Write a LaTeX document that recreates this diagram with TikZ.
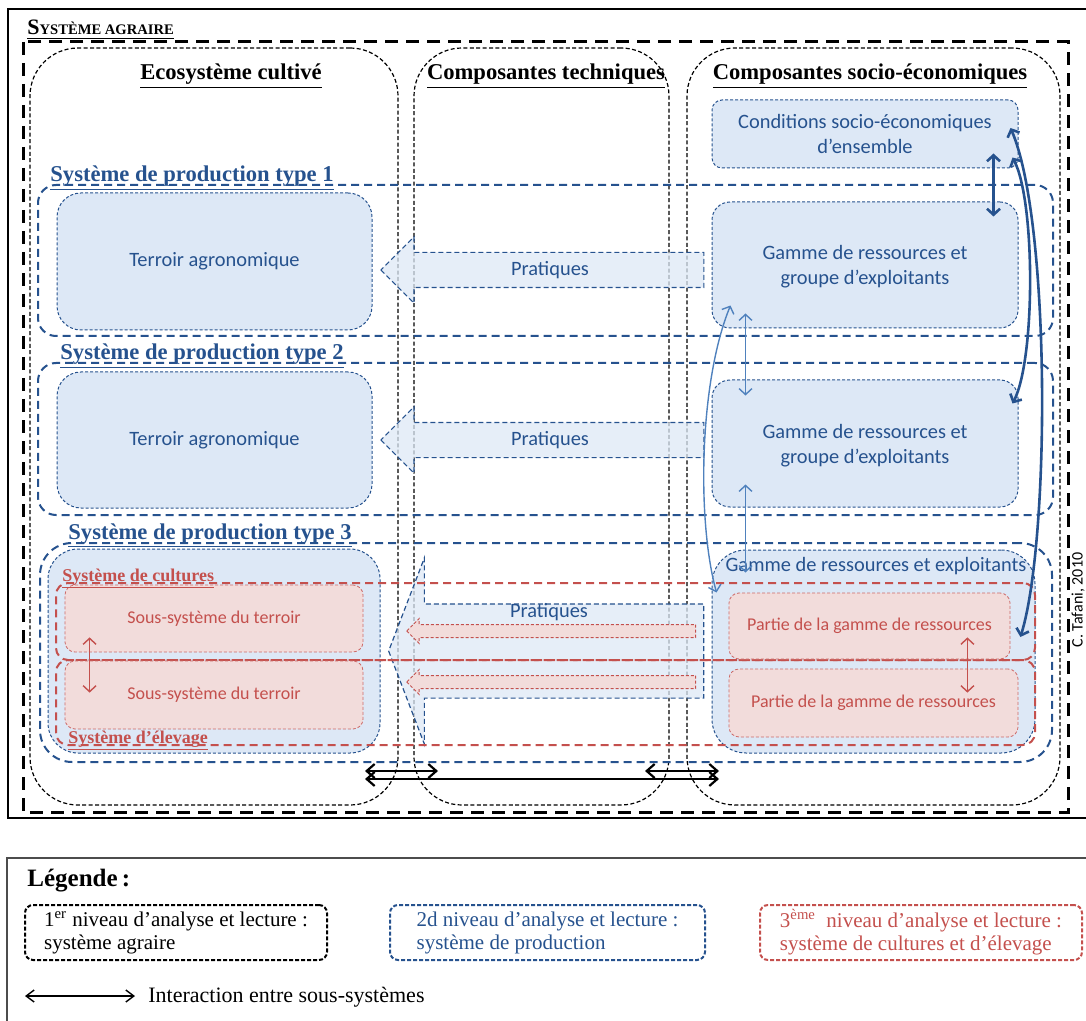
\documentclass[tikz,border=0pt]{standalone}
\usepackage{fontspec}
\setmainfont{Carlito}
\newfontfamily\serifbf{Liberation Serif}
\usepackage{tikz}
\usetikzlibrary{positioning}
\usetikzlibrary{calc,fit,shapes.arrows}
\usetikzlibrary{arrows.meta}
\definecolor{sysblue}{RGB}{38,82,142}
\definecolor{boxfill}{RGB}{221,232,246}
\definecolor{lightlnk}{RGB}{79,129,189}
\definecolor{sysred}{RGB}{196,80,77}
\definecolor{pinkfill}{RGB}{242,220,219}
\tikzstyle{barbs}=[{Straight Barb[length=3pt,width=6.5pt]}-{Straight Barb[length=3pt,width=6.5pt]}]
\tikzset{
  agraire/.style={line width=1.5pt, dash pattern=on 6.5pt off 4pt},
  lvlone/.style={draw=black, line width=0.6pt, dash pattern=on 2pt off 1.2pt, rounded corners=24pt, inner sep=0pt},
  lvltwo/.style={draw=sysblue, line width=1pt, dash pattern=on 4pt off 2.5pt, inner sep=0pt},
  lvlthree/.style={draw=sysred, line width=1pt, dash pattern=on 4pt off 2.5pt, rounded corners=6pt, inner sep=0pt},
  bluebox/.style={draw=sysblue, fill=boxfill, line width=0.5pt, dash pattern=on 1.5pt off 1pt, inner sep=0pt},
  pinkbox/.style={draw=sysred!85, fill=pinkfill, line width=0.4pt, dash pattern=on 1.5pt off 1pt, rounded corners=5pt, inner sep=0pt},
  pratarrow/.style={single arrow, shape border rotate=180, draw=sysblue, fill=boxfill, fill opacity=0.75, line width=0.6pt, dash pattern=on 2.5pt off 1.5pt, inner sep=0pt, anchor=tip},
  redarrow/.style={single arrow, shape border rotate=180, draw=sysred, fill=pinkfill, line width=0.5pt, dash pattern=on 1.5pt off 1pt, inner sep=0pt, anchor=tip, single arrow tip angle=90, text height=3pt, text depth=3pt, single arrow head extend=3pt, minimum width=12pt, minimum height=144.5pt},
  boxtxt/.style={font=\fontsize{10.2}{12.5}\selectfont, text=sysblue, align=center},
  redtxt/.style={font=\fontsize{9}{11}\selectfont, text=sysred},
  header/.style={font=\serifbf\bfseries\fontsize{11.3}{13}\selectfont, anchor=base, inner sep=0pt},
  systitle/.style={font=\serifbf\bfseries\fontsize{11.3}{13}\selectfont, text=sysblue, anchor=base west, inner sep=0pt},
  subtitle/.style={font=\serifbf\bfseries\fontsize{9}{11}\selectfont, text=sysred, anchor=base west, inner sep=0pt},
  darklink/.style={barbs, draw=sysblue, line width=1.3pt},
  lightlink/.style={barbs, draw=lightlnk, line width=0.7pt},
  redlink/.style={barbs, draw=sysred, line width=0.7pt},
  interlink/.style={{Straight Barb[length=4pt,width=7pt]}-{Straight Barb[length=4pt,width=7pt]}, line width=1.1pt},
  legbox/.style={line width=1pt, dash pattern=on 2pt off 1pt, rounded corners=4pt, inner sep=0pt},
  legtxt/.style={font=\serifbf\fontsize{10.5}{11.5}\selectfont, align=left, inner sep=0pt},
}

\begin{document}
\begin{tikzpicture}[x=0.5pt, y=-0.5pt]
\useasboundingbox (0,0) rectangle (1086,1021);

% Outer frames: solid page frame and the agrarian system
\draw[line width=1pt] (1100,9) -| (8,818) -- (1100,818);
\draw[agraire] (23,42) rectangle (1068,812);
\node[anchor=base west, inner sep=0pt, font=\serifbf\bfseries] (agr) at (27,35)
    {\underline{{\fontsize{11}{13}\selectfont S}{\fontsize{7.3}{9}\selectfont YSTÈME AGRAIRE}}};

% First level: the three components
\node[lvlone, fit={(30,48) (398,805)}] (eco) {};
\node[lvlone, fit={(414,48) (669,805)}] (tech) {};
\node[lvlone, fit={(687,48) (1060,805)}] (soc) {};
\node[header] (heco) at (231,80) {\underline{Ecosystème cultivé}};
\node[header] (htech) at (546,80) {\underline{Composantes techniques}};
\node[header] (hsoc) at (870,80) {\underline{Composantes socio-économiques}};

% Second level: production systems
\node[lvltwo, rounded corners=9pt, fit={(38,185) (1053,336)}] (spt1) {};
\node[lvltwo, rounded corners=9pt, fit={(38,363) (1053,515)}] (spt2) {};
\node[lvltwo, rounded corners=16pt, fit={(40,543) (1052,762)}] (spt3) {};

% Blue boxes
\foreach \ya/\yb/\n in {193/330/1, 372/508/2} {
    \node[bluebox, rounded corners=12pt, fit={(57,\ya) (372,\yb)}] (ter\n) {};
    \node[boxtxt] at (ter\n) {Terroir agronomique};
}
\node[bluebox, rounded corners=5pt, fit={(712,100) (1018,168)}] (cond) {};
\node[boxtxt] at (cond) {Conditions socio-économiques\\d’ensemble};
\foreach \ya/\yb/\n in {202/328/1, 380/507/2} {
    \node[bluebox, rounded corners=9pt, fit={(712,\ya) (1018,\yb)}] (gam\n) {};
    \node[boxtxt] at ([yshift=-1pt]gam\n.center) {Gamme de ressources et\\groupe d’exploitants};
}
\node[bluebox, rounded corners=15pt, fit={(48,549) (380,753)}] (terr3) {};
\node[bluebox, rounded corners=17pt, fit={(712,550) (1035,753)}] (gam3) {};
\node[boxtxt, anchor=base] at ([xshift=1.25pt,yshift=-11pt]gam3.north) {Gamme de ressources et exploitants};

% Practices
\foreach \y/\n in {270/1, 440/2} {
    \node[pratarrow, minimum width=32.5pt, minimum height=161.5pt, text height=8.5pt, text depth=8.5pt,
          single arrow head extend=7.75pt, single arrow tip angle=90] (prat\n) at (380,\y) {};
    \node[boxtxt] at (550,\y) {Pratiques};
}
\node[pratarrow, minimum width=92.5pt, minimum height=157.5pt, text height=23.25pt, text depth=23.25pt,
      single arrow head extend=23pt, single arrow tip angle=138] (prat3) at (388,651) {};
\node[boxtxt] at (549,612) {Pratiques};

% Third level: cropping and livestock systems
\node[lvlthree, fit={(56,583) (1035,660)}] (cult) {};
\node[lvlthree, fit={(56,660) (1035,745)}] (elev) {};
\node[pinkbox, fit={(65,585) (363,652)}] (sous1) {};
\node[pinkbox, fit={(65,661) (363,729)}] (sous2) {};
\node[pinkbox, fit={(729,593) (1010,659)}] (part1) {};
\node[pinkbox, fit={(729,669) (1018,737)}] (part2) {};
\foreach \n in {1,2} {
    \node[redtxt] at (sous\n) {Sous-système du terroir};
    \node[redtxt] at (part\n) {Partie de la gamme de ressources};
}
\node[redarrow] (rarr1) at (406,631) {};
\node[redarrow] (rarr2) at (406,682) {};

% Titles of the systems
\node[systitle] (lspt1) at (50,182) {\underline{Système de production type 1}};
\node[systitle] (lspt2) at (60,360) {\underline{Système de production type 2}};
\node[systitle] (lspt3) at (68,539) {\underline{Système de production type 3}};
\node[subtitle] (lcult) at (62,581) {\underline{Système de cultures}};
\node[subtitle] (lelev) at (68,743) {\underline{Système d’élevage}};

% Interactions
\draw[darklink] ([xshift=-12.5pt,yshift=7.5pt]cond.south east) -- ([xshift=-12.5pt,yshift=-7.5pt]gam1.north east);
\draw[darklink] ([xshift=-4pt,yshift=3pt]cond.east)
    .. controls +(40,92) and +(30,-97) .. ([xshift=5pt,yshift=-5.5pt]part1.east);
\draw[darklink] ([xshift=-3pt,yshift=5.5pt]cond.south east)
    .. controls +(23,43) and +(23,-44) .. ([xshift=-3pt,yshift=-12pt]gam2.north east);
\draw[lightlink] ([xshift=17pt,yshift=7.5pt]gam1.south west) -- ([xshift=17pt,yshift=-8pt]gam2.north west);
\draw[lightlink] ([xshift=17pt,yshift=11.5pt]gam2.south west) -- ([xshift=17pt,yshift=-11.5pt]gam3.north west);
\draw[lightlink] ([xshift=9.5pt,yshift=11.5pt]gam1.south west)
    .. controls +(-31,75) and +(-20,-73) .. ([xshift=2.5pt,yshift=-21.5pt]gam3.north west);
\draw[redlink] ([xshift=12.5pt,yshift=7.5pt]sous1.south west) -- ([xshift=12.5pt,yshift=-16pt]sous2.north west);
\draw[redlink] ([xshift=-21.5pt,yshift=11pt]part1.south east) -- ([xshift=-25.5pt,yshift=-12pt]part2.north east);

\coordinate (ia1) at (365,771); \coordinate (ib1) at (438,771);
\coordinate (ia2) at (645,771); \coordinate (ib2) at (719,771);
\coordinate (ia3) at (365,779); \coordinate (ib3) at (719,779);
\draw[interlink] (ia1) -- (ib1);
\draw[interlink] (ia2) -- (ib2);
\draw[interlink] (ia3) -- (ib3);

\node[rotate=90, anchor=base, inner sep=0pt, font=\fontsize{8}{10}\selectfont] (credit) at (1082.5,600) {C. Tafani, 2010};

% Legend
\draw[gray!60!black, line width=1pt] (1100,858) -| (7,1030);
\node[anchor=base west, inner sep=0pt, font=\serifbf\bfseries\fontsize{12.5}{14}\selectfont] (leg) at (27,886) {Légende\,:};
\foreach \xa/\xb/\col/\nm in {25/327/black/lgone, 390/705/sysblue/lgtwo, 760/1082/sysred/lgthree} {
    \node[legbox, draw=\col, fit={(\xa,905) (\xb,960)}] (\nm) {};
}
\node[legtxt] at (lgone) {1\textsuperscript{er} niveau d’analyse et lecture :\\système agraire};
\node[legtxt, text=sysblue] at (lgtwo) {2d niveau d’analyse et lecture :\\système de production};
\node[legtxt, text=sysred] at (lgthree) {3\textsuperscript{ème}\ \ niveau d’analyse et lecture :\\système de cultures et d’élevage};
\coordinate (legA) at (25,996); \coordinate (legB) at (135,996);
\draw[{Straight Barb[length=4pt,width=6pt]}-{Straight Barb[length=4pt,width=6pt]}, line width=0.7pt] (legA) -- (legB);
\node[anchor=base west, inner sep=0pt, font=\serifbf\fontsize{11}{13}\selectfont] (legint) at (148,1002) {Interaction entre sous-systèmes};

\end{tikzpicture}
\end{document}
